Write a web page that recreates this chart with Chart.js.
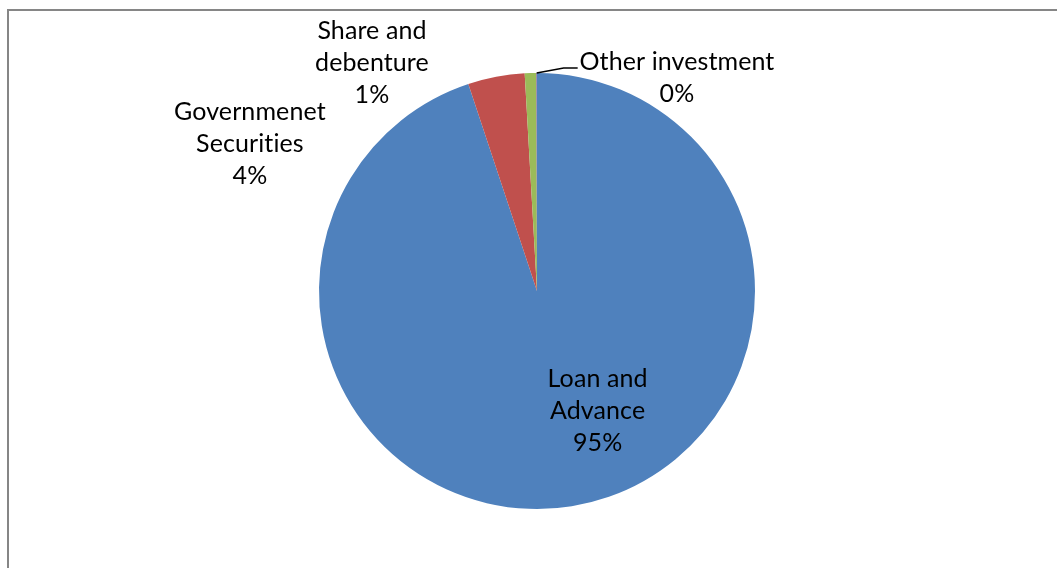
<!DOCTYPE html>
<html>
<head>
<meta charset="utf-8">
<title>Investment mix</title>
<script src="https://cdn.jsdelivr.net/npm/chart.js"></script>
<style>
  body { margin: 0; background: #fff; overflow: hidden; }
  #frame { position: absolute; left: 7px; top: 9px; width: 1100px; height: 600px; border: 2px solid #868686; }
  #wrap { position: absolute; left: 0; top: 0; width: 1057px; height: 568px; }
</style>
</head>
<body>
<div id="frame"></div>
<div id="wrap"><canvas id="myChart"></canvas></div>
<script>
// Investment categories (split into the lines shown on the chart)
const categories = [
  ['Loan and', 'Advance'],
  ['Governmenet', 'Securities'],
  ['Share and', 'debenture'],
  ['Other investment']
];
// Share of total investment, %
const investValues = [94.9, 4.2, 0.85, 0.05];
const sliceColors = ['#4F81BD', '#C0504D', '#9BBB59', '#8064A2'];

// where each label block sits, in units of the pie radius from its centre
const labelSpots = [[0.278, 0.404], [-1.317, -0.821], [-0.757, -1.193], [0.642, -1.05]];
const lineGap = 32;

const total = investValues.reduce((a, b) => a + b, 0);

const pieLabels = {
  id: 'pieLabels',
  afterDatasetsDraw(chart) {
    const ctx = chart.ctx;
    const arcs = chart.getDatasetMeta(0).data;
    ctx.save();
    ctx.font = '25px Lato, "DejaVu Sans", sans-serif';
    ctx.letterSpacing = '0.1px'; // keeps "ti" from turning into a ligature
    ctx.fillStyle = '#000';
    ctx.textAlign = 'center';
    ctx.textBaseline = 'middle';
    arcs.forEach((arc, i) => {
      const r = arc.outerRadius;
      const lx = arc.x + labelSpots[i][0] * r;
      const ly = arc.y + labelSpots[i][1] * r;
      const lines = categories[i].concat([Math.round(investValues[i] / total * 100) + '%']);
      lines.forEach((t, k) => ctx.fillText(t, lx, ly + k * lineGap));
    });

    // leader line for the thin "Other investment" slice
    const arc = arcs[3];
    const mid = (arc.startAngle + arc.endAngle) / 2;
    const px = arc.x + Math.cos(mid) * arc.outerRadius;
    const py = arc.y + Math.sin(mid) * arc.outerRadius;
    ctx.strokeStyle = '#000';
    ctx.lineWidth = 1.4;
    ctx.beginPath();
    ctx.moveTo(px, py);
    ctx.lineTo(px + 27, py - 5);
    ctx.lineTo(px + 41, py - 5);
    ctx.stroke();
    ctx.restore();
  }
};

const myChart = document.getElementById('myChart');

new Chart(myChart, {
  type: 'pie',
  data: {
    labels: categories,
    datasets: [{
      data: investValues,
      backgroundColor: sliceColors,
      borderWidth: 0
    }]
  },
  options: {
    responsive: true,
    maintainAspectRatio: false,
    animation: false,
    layout: {
      padding: { left: 319, right: 302, top: 73, bottom: 59 }
    },
    plugins: {
      legend: { display: false },
      tooltip: { enabled: false }
    }
  },
  plugins: [pieLabels]
});
</script>
</body>
</html>
